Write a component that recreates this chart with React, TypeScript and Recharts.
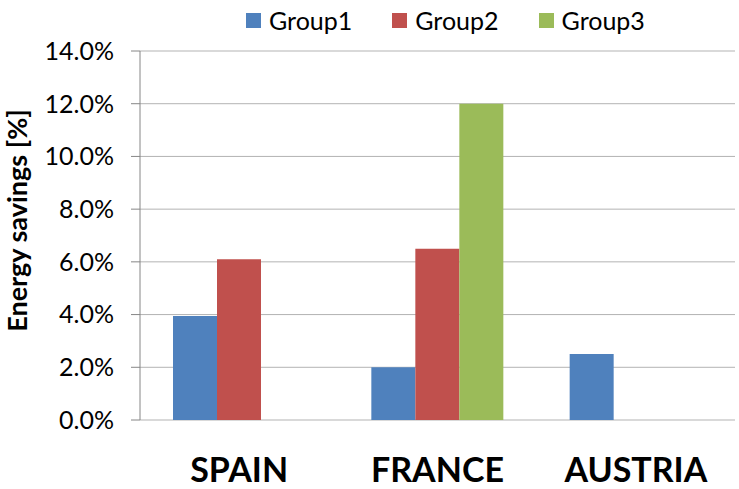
import { Bar, BarChart, CartesianGrid, Legend, XAxis, YAxis } from "recharts"

const countries = ["SPAIN", "FRANCE", "AUSTRIA"]
const group1 = [3.95, 2.0, 2.5]
const group2 = [6.1, 6.5, null]
const group3 = [null, 12.0, null]
const yTicks = [0, 2, 4, 6, 8, 10, 12, 14]
const edgeTicks = [0, 1, 2, 3]

const data = countries.map((name, i) => ({
  name,
  Group1: group1[i],
  Group2: group2[i],
  Group3: group3[i],
}))

const font = "Lato, 'Open Sans', sans-serif"
const axisGray = "#868686"

// legend has zero height so it doesn't push the plot down
const renderLegend = ({ payload }) => (
  <div style={{ height: 0, overflow: "visible" }}>
    <div style={{ display: "flex", gap: 40, paddingLeft: 246, fontFamily: font, fontSize: 25 }}>
      {(payload || []).map((p) => (
        <div key={p.value} style={{ display: "flex", alignItems: "center", gap: 8 }}>
          <span style={{ width: 15, height: 15, background: p.color, display: "inline-block" }} />
          <span>{p.value}</span>
        </div>
      ))}
    </div>
  </div>
)

const renderYLabel = ({ viewBox }) => {
  const x = viewBox.x + 27
  const y = viewBox.y + viewBox.height / 2 - 15
  return (
    <text
      x={x}
      y={y}
      transform={`rotate(-90 ${x} ${y})`}
      textAnchor="middle"
      fontFamily={font}
      fontWeight="bold"
      fontSize={27}
      fill="#000"
    >
      Energy savings [%]
    </text>
  )
}

export default function App() {
  return (
    <div style={{ position: "absolute", left: 0, top: 0, background: "#fff" }}>
      <BarChart
        width={739}
        height={489}
        data={data}
        margin={{ top: 51, right: 4, bottom: 0, left: 0 }}
        barGap={0}
        barCategoryGap={33}
      >
        <CartesianGrid vertical={false} stroke="#b3b3b3" />
        <XAxis
          xAxisId="edge"
          type="number"
          domain={[0, 3]}
          ticks={edgeTicks}
          tick={false}
          tickSize={13}
          height={0}
          stroke={axisGray}
        />
        <XAxis
          xAxisId="cat"
          dataKey="name"
          axisLine={false}
          tickLine={false}
          height={69}
          tickMargin={32}
          tick={{ fontFamily: font, fontWeight: "bold", fontSize: 34, fill: "#000" }}
        />
        <YAxis
          width={140}
          domain={[0, 14]}
          ticks={yTicks}
          tickFormatter={(v) => `${v.toFixed(1)}%`}
          stroke={axisGray}
          tickSize={9}
          tickMargin={17}
          tick={{ fontFamily: font, fontSize: 25, fill: "#000" }}
          label={renderYLabel}
        />
        <Legend verticalAlign="top" align="left" content={renderLegend} wrapperStyle={{ top: 5, left: 0 }} />
        <Bar xAxisId="cat" dataKey="Group1" fill="#4F81BD" isAnimationActive={false} />
        <Bar xAxisId="cat" dataKey="Group2" fill="#C0504D" isAnimationActive={false} />
        <Bar xAxisId="cat" dataKey="Group3" fill="#9BBB59" isAnimationActive={false} />
      </BarChart>
    </div>
  )
}
